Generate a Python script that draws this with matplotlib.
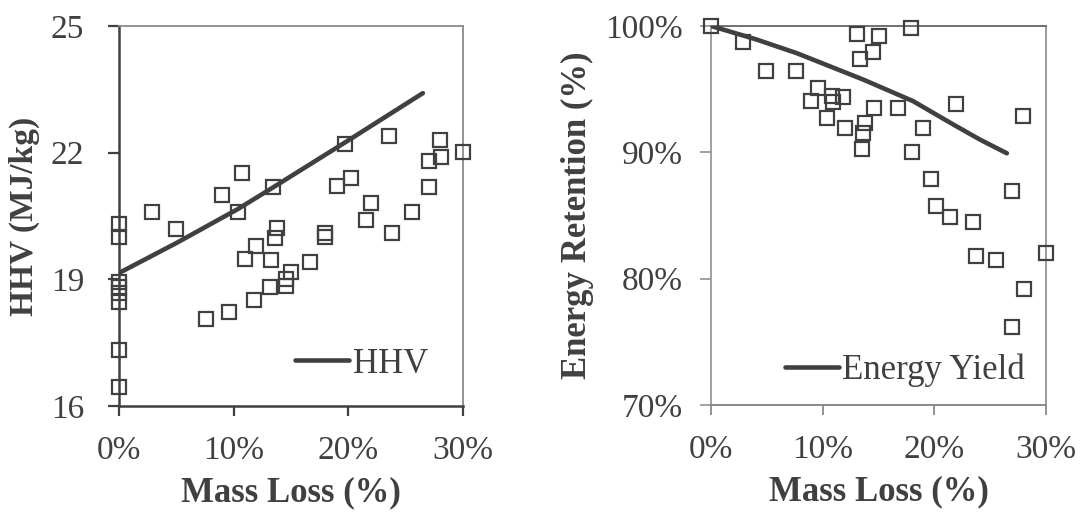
import matplotlib
matplotlib.use("Agg")
import matplotlib.pyplot as plt
from matplotlib.ticker import FuncFormatter

plt.rcParams["font.family"] = ["Liberation Serif", "DejaVu Serif"]

# HHV vs mass loss (scatter + fitted trend)
hhv_loss = [0, 0, 0, 0, 0, 0, 0, 0, 2.9, 4.94, 9.0, 10.75, 10.37, 13.45, 13.8, 13.6,
            11.94, 11.01, 13.28, 15.0, 14.56, 14.53, 13.14, 11.8, 9.59, 7.61, 16.65,
            17.96, 17.96, 19.67, 19.03, 20.23, 21.94, 21.5, 23.54, 23.83, 25.52, 27.06,
            27.99, 28.07, 27.06, 30.0]
hhv_vals = [20.31, 20.0, 18.94, 18.81, 18.67, 18.47, 17.32, 16.45, 20.59, 20.2, 21.0,
            21.52, 20.6, 21.19, 20.21, 19.99, 19.8, 19.49, 19.45, 19.18, 19.0, 18.84,
            18.81, 18.52, 18.23, 18.07, 19.42, 20.09, 20.01, 22.2, 21.21, 21.41, 20.8,
            20.4, 22.39, 20.1, 20.59, 21.81, 22.29, 21.89, 21.19, 22.02]
hhv_fit_loss = [0, 5, 10.4, 13.45, 19.7, 26.5]
hhv_fit_vals = [19.15, 19.86, 20.67, 21.18, 22.24, 23.41]

# energy retention vs mass loss
er_loss = [0, 2.9, 4.9, 7.6, 9.6, 9.0, 10.8, 10.96, 11.86, 10.4, 11.98, 13.11, 15.02,
           14.48, 13.35, 17.92, 14.6, 16.73, 13.77, 13.62, 13.5, 18.01, 19.0, 21.93,
           27.93, 19.71, 20.19, 21.44, 23.5, 26.97, 23.77, 25.48, 30.0, 27.99, 26.94]
er_vals = [100.0, 98.7, 96.46, 96.46, 95.1, 94.09, 94.48, 94.0, 94.35, 92.69, 91.95,
           99.34, 99.2, 97.9, 97.36, 99.87, 93.53, 93.53, 92.3, 91.55, 90.29, 90.0,
           91.95, 93.82, 92.9, 87.86, 85.77, 84.88, 84.46, 86.96, 81.77, 81.47, 82.0,
           79.15, 76.19]
ey_fit_loss = [0, 4, 7.7, 13.65, 18.1, 21.7, 24.1, 26.5]
ey_fit_vals = [100, 98.95, 97.84, 95.75, 94.05, 92.2, 91.0, 89.92]

dark = "#404040"
txt = "#404040"

fig = plt.figure(figsize=(10.81, 5.14), dpi=100)
ax1 = fig.add_axes([0.1101, 0.2101, 0.3182, 0.7393])
ax2 = fig.add_axes([0.6577, 0.2121, 0.3099, 0.7374])

pct = FuncFormatter(lambda v, p: f"{v:.0f}%")

# left panel
ax1.plot(hhv_loss, hhv_vals, "s", ms=9.5, mfc="none", mec=dark, mew=1.6,
         clip_on=False, zorder=3)
ax1.plot(hhv_fit_loss, hhv_fit_vals, "-", color=dark, lw=3.3,
         solid_capstyle="round", solid_joinstyle="round", label="HHV", zorder=4)
ax1.set_xlim(0, 30)
ax1.set_ylim(16, 25)
ax1.set_yticks([16, 19, 22, 25])
ax1.set_xticks([0, 10, 20, 30])
ax1.xaxis.set_major_formatter(pct)
ax1.tick_params(axis="y", direction="out", length=8, width=1.6, color=dark,
                labelsize=24, labelcolor=txt, pad=17)
ax1.tick_params(axis="x", direction="out", length=7, width=1.6, color=dark,
                labelsize=24, labelcolor=txt, pad=14)
for s in ["left", "bottom"]:
    ax1.spines[s].set_color(dark)
    ax1.spines[s].set_linewidth(1.8)
for s in ["top", "right"]:
    ax1.spines[s].set_color("#8a8a8a")
    ax1.spines[s].set_linewidth(1.3)
ax1.set_xlabel("Mass Loss (%)", fontsize=25, fontweight="bold", color=txt, labelpad=8)
ax1.set_ylabel("HHV (MJ/kg)", fontsize=24, fontweight="bold", color=txt, labelpad=8)
ax1.legend(loc="center right", bbox_to_anchor=(0.898, 0.1105), frameon=False,
           fontsize=25, handlelength=1.55, handletextpad=0.1, borderpad=0,
           borderaxespad=0, labelcolor=txt)

# right panel
ax2.plot(er_loss, er_vals, "s", ms=9.5, mfc="none", mec=dark, mew=1.6,
         clip_on=False, zorder=3)
ax2.plot(ey_fit_loss, ey_fit_vals, "-", color=dark, lw=3.3,
         solid_capstyle="round", solid_joinstyle="round", label="Energy Yield",
         zorder=4)
ax2.set_xlim(0, 30)
ax2.set_ylim(70, 100)
ax2.set_yticks([70, 80, 90, 100])
ax2.set_xticks([0, 10, 20, 30])
ax2.xaxis.set_major_formatter(pct)
ax2.yaxis.set_major_formatter(pct)
ax2.tick_params(axis="y", direction="out", length=8, width=1.3, color="#9a9a9a",
                labelsize=24, labelcolor=txt, pad=12)
ax2.tick_params(axis="x", direction="out", length=7, width=1.3, color="#8a8a8a",
                labelsize=24, labelcolor=txt, pad=14)
ax2.spines["left"].set_color("#a0a0a0")
ax2.spines["bottom"].set_color("#8a8a8a")
ax2.spines["top"].set_color("#707070")
ax2.spines["right"].set_color("#9a9a9a")
for s in ax2.spines.values():
    s.set_linewidth(1.4)
ax2.set_xlabel("Mass Loss (%)", fontsize=25, fontweight="bold", color=txt, labelpad=8)
ax2.set_ylabel("Energy Retention (%)", fontsize=25, fontweight="bold", color=txt,
               labelpad=8)
ax2.legend(loc="center right", bbox_to_anchor=(0.937, 0.092), frameon=False,
           fontsize=25, handlelength=1.55, handletextpad=0.1, borderpad=0,
           borderaxespad=0, labelcolor=txt)

fig.savefig("out.png", dpi=100)
